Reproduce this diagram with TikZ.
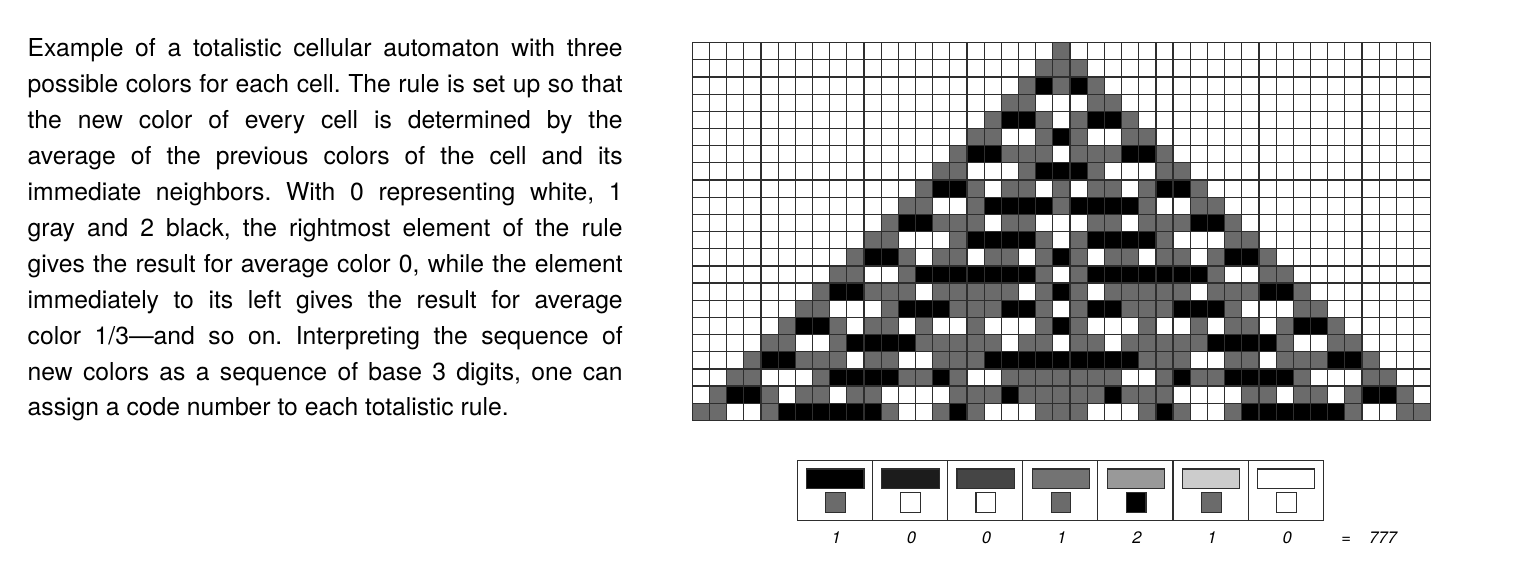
\documentclass[tikz,border=0pt]{standalone}
\usepackage{fontspec}
\setmainfont{TeX Gyre Heros}
\usepackage{tikz}

\definecolor{cagray}{gray}{0.42}
\definecolor{gridline}{gray}{0.18}
\definecolor{bar1}{gray}{0.11}
\definecolor{bar2}{gray}{0.27}
\definecolor{bar3}{gray}{0.45}
\definecolor{bar4}{gray}{0.60}
\definecolor{bar5}{gray}{0.80}

% code 777: new colour for the total 0..6 of the three cells
\newcommand\carule[1]{\ifcase#1 0\or 1\or 2\or 1\or 0\or 0\or 1\fi}

\begin{document}
\frenchspacing
\begin{tikzpicture}[x=0.5pt, y=-0.5pt,
  main/.style = {inner sep=0pt, text width=297.5pt, align=justify, font=\fontsize{12.35}{17.95}\selectfont},
  digit/.style = {inner sep=0pt, anchor=base, font=\fontsize{8.3}{8.3}\selectfont\itshape},
  box/.style = {draw=gridline, line width=0.6pt}]
\useasboundingbox (0,0) rectangle (1534,581);

\node[main, anchor=north west] (caption) at (27.3,38.5) {Example of a totalistic cellular automaton with three\linebreak
possible colors for each cell. The rule is set up so that\linebreak
the new color of every cell is determined by the\linebreak
average of the previous colors of the cell and its\linebreak
immediate neighbors. With 0 representing white, 1\linebreak
gray and 2 black, the rightmost element of the rule\linebreak
gives the result for average color 0, while the element\linebreak
immediately to its left gives the result for average\linebreak
color 1/3---and so on. Interpreting the sequence of\linebreak
new colors as a sequence of base 3 digits, one can\linebreak
assign a code number to each totalistic rule.};

% evolution from one gray cell
\foreach \c in {-1,...,43} {\expandafter\xdef\csname ca@0@\c\endcsname{0}}
\expandafter\xdef\csname ca@0@21\endcsname{1}
\foreach \r in {1,...,21} {
  \pgfmathtruncatemacro\p{\r-1}
  \expandafter\xdef\csname ca@\r @-1\endcsname{0}
  \expandafter\xdef\csname ca@\r @43\endcsname{0}
  \foreach \c in {0,...,42} {
    \pgfmathtruncatemacro\cL{\c-1}
    \pgfmathtruncatemacro\cR{\c+1}
    \edef\s{\the\numexpr\csname ca@\p @\cL\endcsname+\csname ca@\p @\c\endcsname+\csname ca@\p @\cR\endcsname\relax}
    \expandafter\xdef\csname ca@\r @\c\endcsname{\carule{\s}}
  }
}

\begin{scope}[shift={(692.3,42.7)}, x=8.585pt, y=-8.585pt]
\foreach \r in {0,...,21} {
  \foreach \c in {0,...,42} {
    \edef\v{\csname ca@\r @\c\endcsname}
    \ifcase\v \def\cc{white}\or \def\cc{cagray}\or \def\cc{black}\fi
    \fill[\cc] (\c,\r) rectangle ++(1,1);
  }
}
\foreach \c in {0,...,43} \draw[box] (\c,0) -- (\c,22);
\foreach \r in {0,...,22} \draw[box] (0,\r) -- (43,\r);
\end{scope}

% the rule
\begin{scope}[shift={(797.3,460.7)}]
\foreach \b/\n/\d [count=\i from 0] in {black/cagray/1, bar1/white/0, bar2/white/0, bar3/cagray/1, bar4/black/2, bar5/cagray/1, white/white/0} {
  \draw[box] (\i*75.14,0) rectangle ++(75.14,60);
  \draw[box, fill=\b] (\i*75.14+9.4,8.3) rectangle ++(57.3,19.7);
  \draw[box, fill=\n] (\i*75.14+28.4,31.6) rectangle ++(19.7,20);
  \node[digit] (d\i) at (\i*75.14+39,82.6) {\d};
}
\end{scope}
\node[digit, anchor=base west] (code) at (1341,543.3) {=\hspace{9pt}777};
\end{tikzpicture}
\end{document}
